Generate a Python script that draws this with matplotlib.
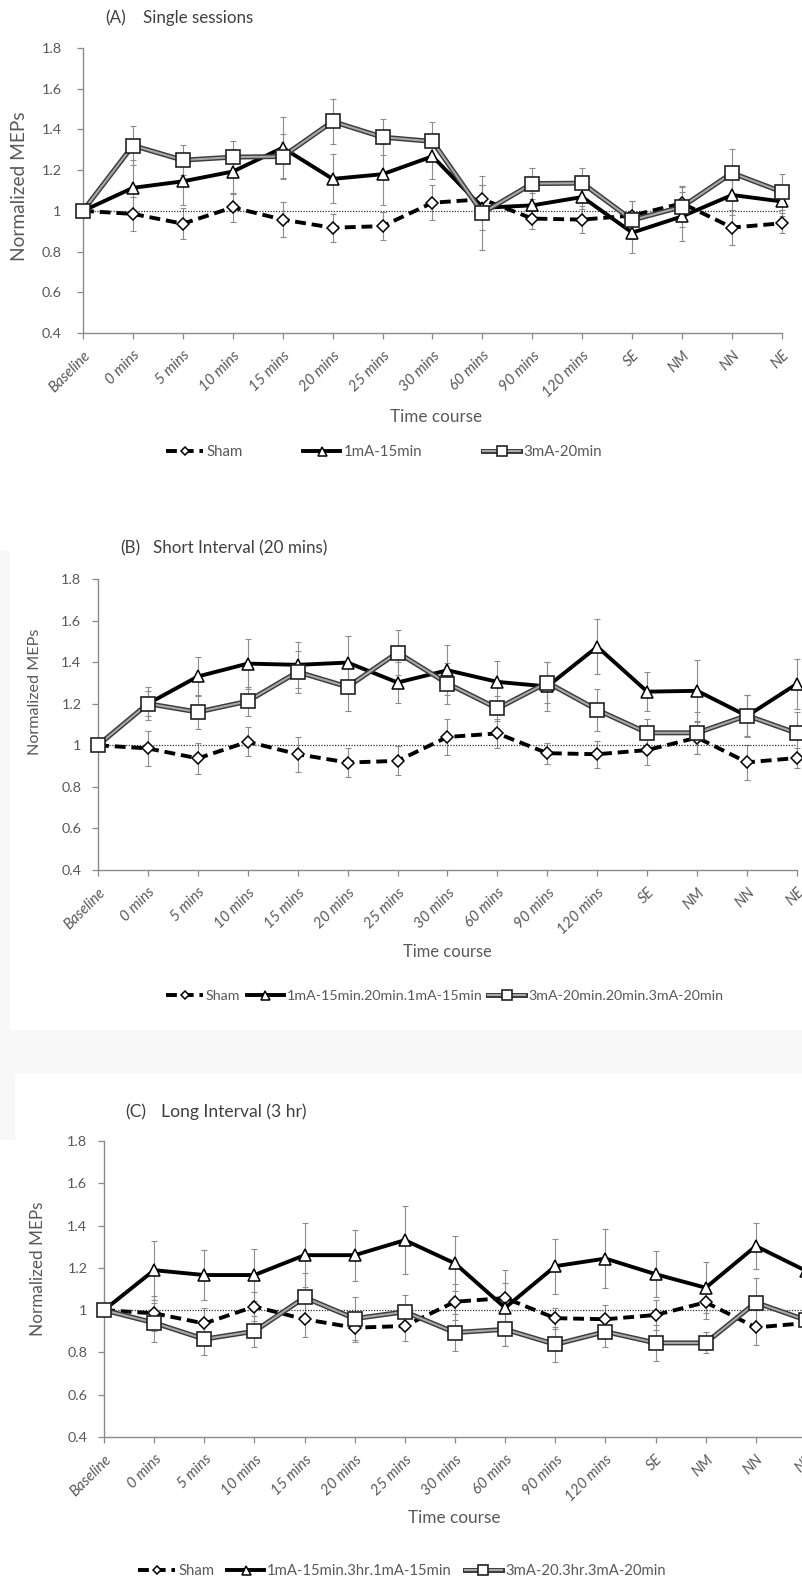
import matplotlib
matplotlib.use('Agg')
import matplotlib.pyplot as plt
import matplotlib.patheffects as pe
from matplotlib.patches import Rectangle
from matplotlib.legend_handler import HandlerTuple
import numpy as np

# ---------------- data ----------------
categories = ['Baseline', '0 mins', '5 mins', '10 mins', '15 mins', '20 mins', '25 mins',
              '30 mins', '60 mins', '90 mins', '120 mins', 'SE', 'NM', 'NN', 'NE']
y_ticks = [0.4, 0.6, 0.8, 1.0, 1.2, 1.4, 1.6, 1.8]
y_tick_labels = ['0.4', '0.6', '0.8', '1', '1.2', '1.4', '1.6', '1.8']

sham = [1.00, 0.985, 0.937, 1.017, 0.957, 0.917, 0.925, 1.040, 1.057, 0.962, 0.957, 0.977, 1.037, 0.918, 0.939]
sham_err = [0.0, 0.083, 0.075, 0.070, 0.085, 0.070, 0.070, 0.085, 0.070, 0.050, 0.065, 0.070, 0.080, 0.085, 0.050]

a_1mA = [1.00, 1.113, 1.145, 1.193, 1.310, 1.157, 1.180, 1.268, 1.015, 1.027, 1.068, 0.893, 0.973, 1.078, 1.046]
a_1mA_err = [0.0, 0.135, 0.115, 0.110, 0.150, 0.120, 0.150, 0.110, 0.110, 0.060, 0.060, 0.100, 0.120, 0.100, 0.070]
a_3mA = [1.00, 1.321, 1.249, 1.264, 1.267, 1.439, 1.362, 1.341, 0.990, 1.134, 1.136, 0.955, 1.020, 1.186, 1.093]
a_3mA_err = [0.0, 0.094, 0.073, 0.080, 0.110, 0.110, 0.090, 0.095, 0.180, 0.075, 0.075, 0.095, 0.100, 0.120, 0.087]

b_1mA = [1.00, 1.200, 1.331, 1.393, 1.387, 1.398, 1.302, 1.361, 1.305, 1.283, 1.474, 1.258, 1.262, 1.141, 1.296]
b_1mA_err = [0.0, 0.080, 0.096, 0.120, 0.110, 0.130, 0.100, 0.120, 0.100, 0.120, 0.133, 0.095, 0.150, 0.100, 0.120]
b_3mA = [1.00, 1.200, 1.160, 1.212, 1.353, 1.281, 1.446, 1.297, 1.177, 1.302, 1.170, 1.060, 1.060, 1.143, 1.058]
b_3mA_err = [0.0, 0.060, 0.080, 0.070, 0.100, 0.115, 0.107, 0.100, 0.060, 0.100, 0.100, 0.065, 0.100, 0.100, 0.100]

c_1mA = [1.00, 1.189, 1.166, 1.166, 1.260, 1.260, 1.331, 1.221, 1.011, 1.208, 1.244, 1.170, 1.106, 1.303, 1.186]
c_1mA_err = [0.0, 0.140, 0.120, 0.125, 0.150, 0.120, 0.160, 0.130, 0.180, 0.130, 0.140, 0.110, 0.120, 0.107, 0.125]
c_3mA = [1.00, 0.940, 0.863, 0.900, 1.060, 0.960, 0.992, 0.894, 0.909, 0.838, 0.898, 0.845, 0.845, 1.036, 0.953]
c_3mA_err = [0.0, 0.093, 0.073, 0.073, 0.117, 0.100, 0.080, 0.088, 0.080, 0.082, 0.070, 0.085, 0.050, 0.114, 0.090]

titles = [('(A)', 'Single sessions'), ('(B)', 'Short Interval (20 mins)'), ('(C)', 'Long Interval (3 hr)')]
legend_labels = [['Sham', '1mA-15min', '3mA-20min'],
                 ['Sham', '1mA-15min.20min.1mA-15min', '3mA-20min.20min.3mA-20min'],
                 ['Sham', '1mA-15min.3hr.1mA-15min', '3mA-20.3hr.3mA-20min']]
xlabel_text = 'Time course'
ylabel_text = 'Normalized MEPs'

# ---------------- style / layout ----------------
W, H, DPI = 802, 1583, 100
FONT = 'Lato'
AX_C = '#8a8a8a'
TXT_C = '#595959'
ERR_C = '#8c8c8c'

fig = plt.figure(figsize=(W / DPI, H / DPI), dpi=DPI)
fig.patch.set_facecolor('white')
renderer = fig.canvas.get_renderer()


def fx(x):
    return x / W


def fy(y):
    return 1 - y / H


def fit(txt, target, style='normal', base=10.0):
    t = fig.text(0, 0, txt, fontsize=base, family=FONT, style=style)
    w = t.get_window_extent(renderer).width
    t.remove()
    return base * target / w


# faint grey areas from the original composite
for (x0, y0, x1, y1) in [(0, 551, 10, 1040), (0, 1030, 802, 1073), (0, 1073, 15, 1140)]:
    fig.add_artist(Rectangle((fx(x0), fy(y1)), (x1 - x0) / W, (y1 - y0) / H,
                             transform=fig.transFigure, facecolor='#f8f8f8',
                             edgecolor='none', zorder=0))

layout = [
    dict(L=83, R=782, T=48, B=333, tag_x=105, title_x=143, title_y=18, title_w=111,
         ylab_x=20, ylab_y=186, ylab_len=150, ypad=11.5,
         xlab_x=436, xlab_y=417, xlab_w=92,
         leg_x=166, leg_y=452, leg_w=79, leg_cs=61),
    dict(L=98, R=797, T=579, B=870, tag_x=120, title_x=153, title_y=548, title_w=174,
         ylab_x=35, ylab_y=692, ylab_len=126, ypad=8.0,
         xlab_x=447, xlab_y=952, xlab_w=89,
         leg_x=166, leg_y=996, leg_w=196, leg_cs=6),
    dict(L=104, R=806, T=1141, B=1437, tag_x=125, title_x=161, title_y=1112, title_w=145,
         ylab_x=38, ylab_y=1269, ylab_len=134, ypad=8.0,
         xlab_x=454, xlab_y=1518, xlab_w=93,
         leg_x=138, leg_y=1571, leg_w=186, leg_cs=13),
]

series = [(a_1mA, a_1mA_err, a_3mA, a_3mA_err),
          (b_1mA, b_1mA_err, b_3mA, b_3mA_err),
          (c_1mA, c_1mA_err, c_3mA, c_3mA_err)]

x = np.arange(len(categories))
xt_size = fit('10 mins', 50, style='italic')
yt_size = fit('1.8', 20)

for i, (lay, ser) in enumerate(zip(layout, series)):
    m1, m1e, m3, m3e = ser
    ax = fig.add_axes([fx(lay['L']), fy(lay['B']), (lay['R'] - lay['L']) / W,
                       (lay['B'] - lay['T']) / H])
    ax.set_facecolor('none')
    ax.set_xlim(0, len(categories) - 1)
    ax.set_ylim(0.4, 1.8)
    for s in ['top', 'right']:
        ax.spines[s].set_visible(False)
    for s in ['left', 'bottom']:
        ax.spines[s].set_color(AX_C)
        ax.spines[s].set_linewidth(1.0)
    ax.set_yticks(y_ticks)
    ax.set_yticklabels(y_tick_labels, family=FONT, fontsize=yt_size)
    ax.set_xticks(x)
    ax.set_xticklabels(categories, rotation=45, ha='right', va='top',
                       rotation_mode='anchor', family=FONT, style='italic',
                       fontsize=xt_size)
    ax.tick_params(axis='both', direction='out', length=4, width=0.9,
                   color=AX_C, labelcolor=TXT_C)
    ax.tick_params(axis='y', pad=lay['ypad'])
    ax.tick_params(axis='x', pad=7)

    # error bars
    for vals, errs in [(sham, sham_err), (m1, m1e), (m3, m3e)]:
        cont = ax.errorbar(x, vals, yerr=errs, fmt='none', ecolor=ERR_C,
                           elinewidth=0.8, capsize=2.5, capthick=0.8, zorder=2)
        for art in cont.get_children():
            art.set_clip_on(False)

    ax.axhline(1.0, color='#333333', lw=0.9, ls=(0, (1.0, 1.2)), zorder=3)

    h_sham, = ax.plot(x, sham, color='black', lw=2.8, ls=(0, (2.8, 1.5)),
                      marker='D', ms=6, mfc='white', mec='black', mew=1.1,
                      zorder=4, clip_on=False)
    h_1, = ax.plot(x, m1, color='black', lw=2.8, ls='-', marker='^', ms=9,
                   mfc='white', mec='black', mew=1.1, zorder=5, clip_on=False)
    h_3l, = ax.plot(x, m3, color='#a8a8a8', lw=1.5, ls='-', zorder=6, clip_on=False,
                    path_effects=[pe.Stroke(linewidth=3.6, foreground='#3c3c3c'), pe.Normal()])
    h_3m, = ax.plot(x, m3, ls='none', marker='s', ms=10.5, mfc='white', mec='#222222',
                    mew=1.2, zorder=7, clip_on=False)

    # titles
    tsize = fit(titles[i][1], lay['title_w'])
    fig.text(fx(lay['tag_x']), fy(lay['title_y']), titles[i][0], fontsize=tsize,
             family=FONT, color='#404040', ha='left', va='center')
    fig.text(fx(lay['title_x']), fy(lay['title_y']), titles[i][1], fontsize=tsize,
             family=FONT, color='#404040', ha='left', va='center')

    # axis labels
    fig.text(fx(lay['xlab_x']), fy(lay['xlab_y']), xlabel_text,
             fontsize=fit(xlabel_text, lay['xlab_w']), family=FONT, color=TXT_C,
             ha='center', va='center')
    fig.text(fx(lay['ylab_x']), fy(lay['ylab_y']), ylabel_text, rotation=90,
             fontsize=fit(ylabel_text, lay['ylab_len']), family=FONT, color=TXT_C,
             ha='center', va='center')

    # legend
    lsize = fit(legend_labels[i][1], lay['leg_w'])
    px_per_fs = lsize / 0.72
    fig.legend(handles=[h_sham, h_1, (h_3l, h_3m)], labels=legend_labels[i],
               loc='center left', bbox_to_anchor=(fx(lay['leg_x']), fy(lay['leg_y'])),
               ncol=3, frameon=False, prop={'family': FONT, 'size': lsize},
               labelcolor=TXT_C, handlelength=37 / px_per_fs,
               handletextpad=3 / px_per_fs, columnspacing=lay['leg_cs'] / px_per_fs,
               borderpad=0, borderaxespad=0, numpoints=1, markerscale=0.72,
               handler_map={tuple: HandlerTuple(ndivide=1)})

fig.savefig('out.png', dpi=DPI, facecolor='white')
